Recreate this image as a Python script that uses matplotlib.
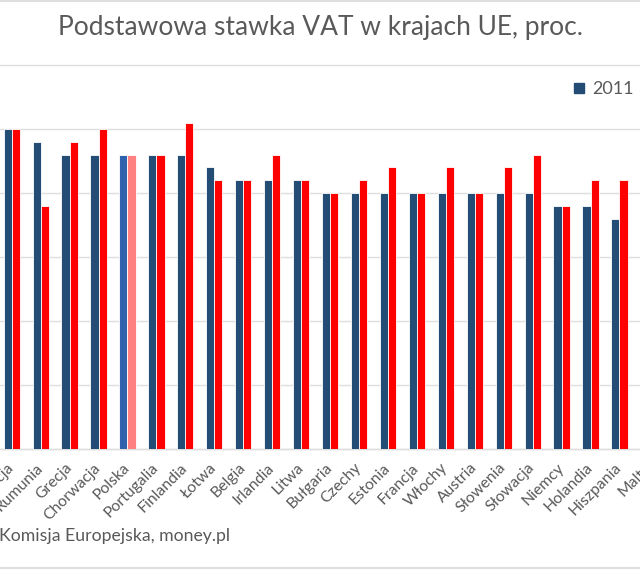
import matplotlib
matplotlib.use("Agg")
import matplotlib.pyplot as plt
import numpy as np
from matplotlib.lines import Line2D

plt.rcParams['font.family'] = ['Lato', 'DejaVu Sans']

# podstawowa stawka VAT, proc. (widoczny fragment wykresu)
countries = ['Szwecja', 'Rumunia', 'Grecja', 'Chorwacja', 'Polska', 'Portugalia',
             'Finlandia', 'Łotwa', 'Belgia', 'Irlandia', 'Litwa', 'Bułgaria',
             'Czechy', 'Estonia', 'Francja', 'Włochy', 'Austria', 'Słowenia',
             'Słowacja', 'Niemcy', 'Holandia', 'Hiszpania', 'Malta']
vat_2011 = [25, 24, 23, 23, 23, 23, 23, 22, 21, 21, 21, 20,
            20, 20, 20, 20, 20, 20, 20, 19, 19, 18, 18]
vat_2025 = [25, 19, 24, 25, 23, 23, 25.5, 21, 21, 23, 21, 20,
            21, 22, 20, 22, 20, 22, 23, 19, 21, 21, 18]
years = ['2011', '2025']
highlight = 'Polska'

BLUE = '#234d75'
RED = '#ff0000'
BLUE_HL = '#2f62ad'
RED_HL = '#ff8080'
TXT = '#595959'
GRID = '#dedede'

W, H = 640, 570
fig = plt.figure(figsize=(W / 100, H / 100), dpi=100)

# axes runs past both edges of the picture (cropped chart)
left_px, right_px = -50, 690
top_px, bottom_px = 65, 449
ax = fig.add_axes([left_px / W, 1 - bottom_px / H,
                   (right_px - left_px) / W, (bottom_px - top_px) / H])

step = 28.94   # px per category
x0 = 11.7      # px of first category
ax.set_xlim((left_px - x0) / step, (right_px - x0) / step)
ax.set_ylim(0, 30)

x = np.arange(len(countries))
bw = 0.28
c1 = [BLUE_HL if c == highlight else BLUE for c in countries]
c2 = [RED_HL if c == highlight else RED for c in countries]
ax.bar(x - bw / 2, vat_2011, bw, color=c1, edgecolor='white', linewidth=0.6, zorder=3)
ax.bar(x + bw / 2, vat_2025, bw, color=c2, edgecolor='white', linewidth=0.6, zorder=3)

ax.set_yticks(np.arange(0, 31, 5))
ax.yaxis.grid(True, color=GRID, linewidth=1.0)
for g in ax.get_ygridlines():
    g.set_clip_on(False)
ax.set_axisbelow(True)
ax.tick_params(axis='y', left=False, labelleft=False)
for s in ['left', 'right', 'top']:
    ax.spines[s].set_visible(False)
ax.spines['bottom'].set_color(GRID)
ax.spines['bottom'].set_linewidth(1.0)

ax.set_xticks(x)
ax.set_xticklabels(countries, rotation=45, ha='right', va='center',
                   rotation_mode='anchor', fontsize=11.3, color=TXT)
ax.tick_params(axis='x', length=0, pad=12)

handles = [Line2D([], [], marker='s', linestyle='', color=BLUE, markersize=7.5),
           Line2D([], [], marker='s', linestyle='', color=RED, markersize=7.5)]
fig.legend(handles, years, loc='upper left', ncol=2, frameon=False,
           bbox_to_anchor=(563 / W, 1 - 72 / H), fontsize=13,
           labelcolor=TXT, handlelength=0.8, handletextpad=0.3,
           columnspacing=1.5, borderpad=0)

fig.text(0.5, 1 - 28 / H, 'Podstawowa stawka VAT w krajach UE, proc.',
         ha='center', va='center', fontsize=19, color=TXT)
fig.text(-1 / W, 1 - 536 / H, 'Komisja Europejska, money.pl',
         ha='left', va='center', fontsize=12.7, color=TXT)

# thin frame lines at top and bottom of the picture
fig.add_artist(Line2D([0, 1], [1 - 1 / H, 1 - 1 / H], color=GRID, linewidth=1.5))
fig.add_artist(Line2D([0, 1], [1 - 568 / H, 1 - 568 / H], color=GRID, linewidth=1.5))

fig.savefig('out.png', dpi=100, facecolor='white')
